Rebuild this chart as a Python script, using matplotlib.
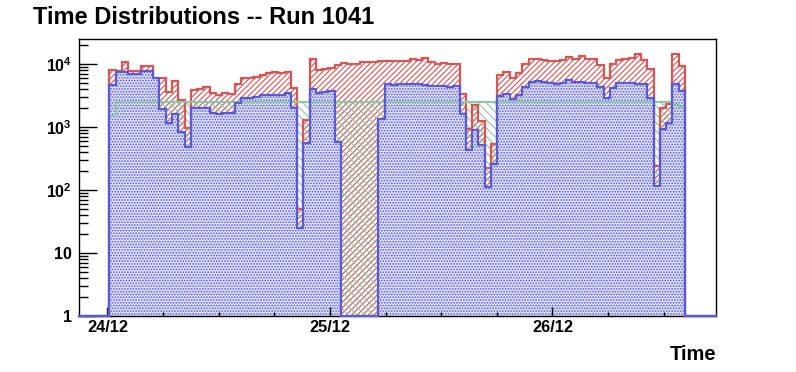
import numpy as np
import matplotlib.pyplot as plt
from matplotlib.ticker import FixedLocator, NullFormatter

plt.rcParams['font.family'] = ['Liberation Sans', 'DejaVu Sans']
plt.rcParams['font.weight'] = 'bold'
plt.rcParams['mathtext.fontset'] = 'custom'
plt.rcParams['mathtext.rm'] = 'Liberation Sans:bold'
plt.rcParams['mathtext.it'] = 'Liberation Sans:bold'
plt.rcParams['mathtext.bf'] = 'Liberation Sans:bold'
plt.rcParams['hatch.linewidth'] = 0.8

# counts per time bin
red_counts = [
    8100, 7800, 10900, 7800, 7800, 9200, 9400, 6100, 6000, 3600,
    5300, 2650, 960, 3900, 4050, 4250, 3500, 3250, 3500, 3400,
    4900, 6000, 6100, 6300, 6800, 7100, 7400, 7300, 7400, 4200,
    50, 1290, 11900, 8000, 8200, 8500, 9500, 10300, 9900, 10000,
    10900, 10900, 10900, 11300, 11200, 11000, 11200, 11000, 11900, 11500,
    12600, 10800, 10000, 10500, 9900, 10200, 3400, 920, 2200, 1250,
    220, 530, 6600, 7600, 5900, 7100, 9900, 12100, 12100, 11700,
    11300, 11000, 11400, 12900, 11900, 13200, 11900, 11900, 9600, 5900,
    9900, 11400, 11900, 12300, 14300, 11400, 8200, 240, 1980, 2340,
    14300, 9200,
]
blue_counts = [
    4600, 7550, 7550, 7000, 7000, 7800, 7800, 6100, 1910, 1170,
    1610, 830, 476, 2000, 2000, 2000, 1690, 1590, 1690, 1690,
    2450, 2920, 2920, 3030, 3260, 3260, 3260, 3260, 3510, 2000,
    25, 563, 4060, 3480, 3550, 3780, 570, 0, 0, 0,
    0, 0, 0, 1320, 4860, 4700, 4760, 4760, 4860, 4760,
    4590, 4480, 4480, 4480, 4270, 4480, 1590, 427, 886, 512,
    113, 262, 3100, 3380, 2750, 3260, 4360, 5180, 5310, 5180,
    5040, 4900, 4940, 5510, 5120, 5240, 4940, 4940, 4310, 2850,
    4200, 5040, 5040, 4990, 4860, 4760, 2920, 116, 940, 1140,
    4760, 3730,
]
green_counts = [1510] + [2500] * 89 + [2350, 2100]

day_ticks = [0, 1, 2]
day_labels = ['24/12', '25/12', '26/12']

# time axis in days after 24/12 00:00
XMIN, XMAX = -0.128, 2.735
t0 = 0.009
dt = 0.02811
edges = t0 + dt * np.arange(len(red_counts) + 1)


def step_xy(counts):
    c = np.maximum(np.asarray(counts, float), 1.0)
    xs = np.concatenate([[XMIN], np.repeat(edges, 2), [XMAX]])
    ys = np.concatenate([[1, 1], np.repeat(c, 2), [1, 1]])
    return xs, ys


def draw_hist(ax, counts, color, hatch, z, zline, face='none'):
    xs, ys = step_xy(counts)
    if face != 'none':
        ax.fill_between(xs, 1, ys, facecolor=face, linewidth=0, zorder=z)
    ax.fill_between(xs, 1, ys, facecolor='none', edgecolor=color,
                    hatch=hatch, linewidth=0, zorder=z)
    ax.plot(xs, ys, color=color, lw=1.6, zorder=zline,
            solid_joinstyle='miter', clip_on=False)


fig = plt.figure(figsize=(7.96, 3.72), dpi=100)
ax = fig.add_axes([0.0992, 0.1505, 0.8003, 0.7447])

draw_hist(ax, red_counts, '#d65656', '//////', 1.0, 3.0)
draw_hist(ax, green_counts, '#8cc8a8', '\\\\\\\\', 1.1, 3.1)
draw_hist(ax, blue_counts, '#5a5ad8', '......', 1.2, 3.2, face='#dcdff8')

ax.set_yscale('log')
ax.set_xlim(XMIN, XMAX)
ax.set_ylim(1, 2.5e4)

ax.yaxis.set_major_locator(FixedLocator([1, 10, 100, 1000, 10000]))
ax.set_yticklabels(['1', '10', r'$10^{2}$', r'$10^{3}$', r'$10^{4}$'])
minors = [m * 10 ** e for e in range(0, 5) for m in range(2, 10)]
ax.yaxis.set_minor_locator(FixedLocator([v for v in minors if v < 2.5e4]))
ax.yaxis.set_minor_formatter(NullFormatter())

ax.xaxis.set_major_locator(FixedLocator(day_ticks))
ax.set_xticklabels(day_labels)
ax.xaxis.set_minor_locator(FixedLocator(np.arange(0.0, 2.75, 0.25)))

ax.tick_params(axis='y', which='major', direction='in', length=13, width=1,
               labelsize=11.5, pad=5)
ax.tick_params(axis='y', which='minor', direction='in', length=6.5, width=1)
ax.tick_params(axis='x', which='major', direction='in', length=6.5, width=1,
               labelsize=11.8, pad=3)
ax.tick_params(axis='x', which='minor', direction='in', length=3.2, width=1)

for s in ax.spines.values():
    s.set_linewidth(1)
    s.set_zorder(2.5)

fig.text(0.042, 0.952, 'Time Distributions -- Run 1041', fontsize=17,
         fontweight='bold', ha='left', va='center')
fig.text(0.8995, 0.048, 'Time', fontsize=14.5, fontweight='bold',
         ha='right', va='center')

fig.savefig('out.png', dpi=100)
